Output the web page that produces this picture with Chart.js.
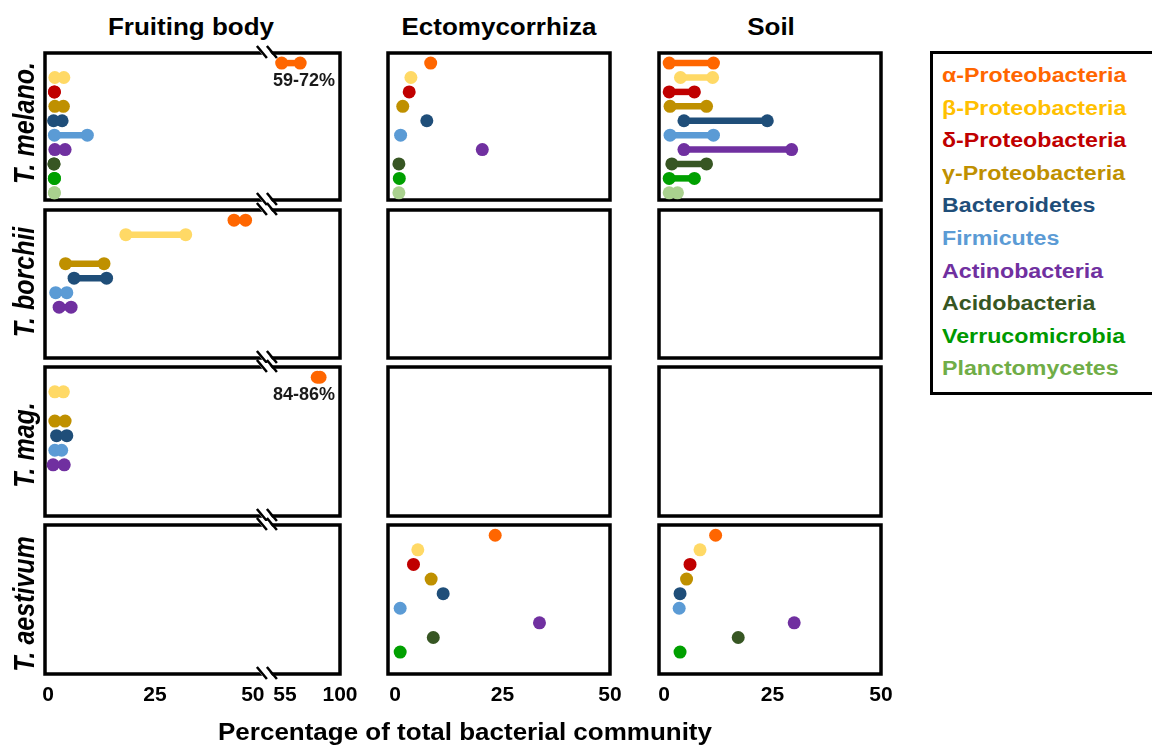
<!DOCTYPE html>
<html>
<head>
<meta charset="utf-8">
<title>Bacterial community of truffles</title>
<script src="https://cdn.jsdelivr.net/npm/chart.js@4.4.1/dist/chart.umd.min.js"></script>
<style>
  body { margin: 0; background: #fff; font-family: "Liberation Sans", Arial, sans-serif; }
  #fig { position: relative; width: 1152px; height: 746px; overflow: hidden; }
  .panel { position: absolute; }
  .txt { position: absolute; white-space: nowrap; font-weight: bold; line-height: 1; transform-origin: 0 0; }
  #legend { position: absolute; border: 3px solid #000; box-sizing: border-box; }
</style>
</head>
<body>
<div id="fig"></div>
<script>
// categories
const taxa = ['α-Proteobacteria', 'β-Proteobacteria', 'δ-Proteobacteria', 'γ-Proteobacteria', 'Bacteroidetes',
    'Firmicutes', 'Actinobacteria', 'Acidobacteria', 'Verrucomicrobia', 'Planctomycetes'];
const habitats = ['Fruiting body', 'Ectomycorrhiza', 'Soil'];
const truffles = ['T. melano.', 'T. borchii', 'T. mag.', 'T. aestivum'];

// % of community, [min, max] ranges or single values, same order as taxa
const melanoFruiting = [[59, 72], [1.6, 3.7], [1.5, 1.5], [1.6, 3.6], [1.3, 3.3], [1.5, 9.2], [1.6, 4.0], [1.4, 1.4], [1.5, 1.5], [1.5, 1.5]];
const melanoEcto = [8.3, 3.7, 3.3, 1.8, 7.4, 1.3, 20.3, 0.9, 1.0, 0.9];
const melanoSoil = [[1.2, 11.4], [3.8, 11.2], [1.2, 7.0], [1.4, 9.8], [4.6, 23.8], [1.4, 11.4], [4.6, 29.4], [1.8, 9.8], [1.2, 7.0], [1.2, 3.1]];
const borchiiFruiting = [[43.5, 46.2], [18.2, 32.2], null, [4.1, 13.1], [6.1, 13.7], [1.8, 4.4], [2.6, 5.4], null, null, null];
const borchiiEcto = [];
const borchiiSoil = [];
const magFruiting = [[84, 86], [1.6, 3.6], null, [1.6, 4.0], [2.0, 4.4], [1.6, 3.2], [1.2, 3.8], null, null, null];
const magEcto = [];
const magSoil = [];
const aestivumFruiting = [];
const aestivumEcto = [23.3, 5.3, 4.3, 8.4, 11.2, 1.2, 33.6, 8.9, 1.2, null];
const aestivumSoil = [11.9, 8.3, 6.0, 5.2, 3.7, 3.5, 30.0, 17.1, 3.7, null];

const fruitTicks = [0, 25, 50, 55, 100];
const otherTicks = [0, 25, 50];
const fruitNotes = ['59-72%', null, '84-86%', null];

const panelData = [
    [melanoFruiting, melanoEcto, melanoSoil],
    [borchiiFruiting, borchiiEcto, borchiiSoil],
    [magFruiting, magEcto, magSoil],
    [aestivumFruiting, aestivumEcto, aestivumSoil]
];

const dotColors = ['#FF6600', '#FFD966', '#C00000', '#BF9000', '#1F4E79', '#5B9BD5', '#7030A0', '#375623', '#00A000', '#A9D18E'];
const legendColors = ['#FF6600', '#FFC000', '#C00000', '#BF9000', '#1F4E79', '#5B9BD5', '#7030A0', '#375623', '#009900', '#70AD47'];

// layout
const cols = [{l: 45, w: 295, min: -0.7}, {l: 388, w: 222, min: -1.63}, {l: 659, w: 222, min: -1.15}];
const rows = [{t: 53, h: 147}, {t: 210, h: 148}, {t: 367, h: 149}, {t: 525, h: 149}];
const PAD = 12, PAD_X = 22, AXIS_H = 40;
const FONT = 'Liberation Sans';

// broken x axis for the fruiting body column: 0-50 | 55-100
const BREAK_AT = 50, BREAK_RESUME = 55, SPLIT = 0.735, RESUME = 0.783;
const TICK_NUDGE = [0, 0, -9, 9, 0];

const LinearScale = Chart.LinearScale || Chart.registry.getScale('linear');
class BrokenScale extends LinearScale {
    getPixelForValue(value) {
        if (value === null || value === undefined || isNaN(value)) return NaN;
        var d;
        if (value <= BREAK_AT) {
            d = (value - this.min) / (BREAK_AT - this.min) * SPLIT;
        } else {
            d = RESUME + (Math.max(value, BREAK_RESUME) - BREAK_RESUME) / (this.max - BREAK_RESUME) * (1 - RESUME);
        }
        return this.getPixelForDecimal(d);
    }
    getPixelForTick(index) {
        var p = super.getPixelForTick(index);
        return p === null ? p : p + (TICK_NUDGE[index] || 0);
    }
}
BrokenScale.id = 'broken';
BrokenScale.defaults = LinearScale.defaults;
Chart.register(BrokenScale);

Chart.defaults.font.family = FONT;

const fig = document.getElementById('fig');

function addText(str, x, y, o) {
    var el = document.createElement('div');
    el.className = 'txt';
    el.textContent = str;
    el.style.left = x + 'px';
    el.style.top = y + 'px';
    el.style.fontSize = o.size + 'px';
    el.style.color = o.color || '#000';
    if (o.italic) el.style.fontStyle = 'italic';
    el.style.transform = 'scaleX(' + (o.sx || 1) + ')' + (o.rotate ? ' rotate(-90deg)' : '') +
        ' translate(' + (o.left ? '0' : '-50%') + ', -50%)';
    (o.parent || fig).appendChild(el);
    return el;
}

const framePlugin = {
    id: 'frame',
    beforeDatasetsDraw: function (chart) {
        var a = chart.chartArea, ctx = chart.ctx, x = chart.scales.x;
        ctx.save();
        ctx.strokeStyle = '#000';
        ctx.lineWidth = 3.5;
        ctx.strokeRect(a.left, a.top, a.right - a.left, a.bottom - a.top);
        if (x instanceof BrokenScale) {
            var xb = (x.getPixelForValue(BREAK_AT) + x.getPixelForValue(BREAK_RESUME)) / 2 - 2;
            [a.top, a.bottom].forEach(function (y) {
                ctx.fillStyle = '#fff';
                ctx.beginPath();
                ctx.moveTo(xb - 9, y - 4);
                ctx.lineTo(xb + 1, y - 4);
                ctx.lineTo(xb + 7, y + 4);
                ctx.lineTo(xb - 3, y + 4);
                ctx.closePath();
                ctx.fill();
                ctx.lineWidth = 2.5;
                ctx.beginPath();
                ctx.moveTo(xb - 10, y - 7); ctx.lineTo(xb, y + 5);
                ctx.moveTo(xb, y - 7); ctx.lineTo(xb + 10, y + 5);
                ctx.stroke();
            });
        }
        ctx.restore();
    }
};

function notePlugin(text) {
    return {
        id: 'note',
        afterDatasetsDraw: function (chart) {
            if (!text) return;
            var ctx = chart.ctx, a = chart.chartArea;
            ctx.save();
            ctx.font = 'bold 18px "' + FONT + '"';
            ctx.fillStyle = '#1a1a1a';
            ctx.textAlign = 'right';
            ctx.textBaseline = 'top';
            ctx.fillText(text, a.right - 5, chart.scales.y.getPixelForValue(0) + 9);
            ctx.restore();
        }
    };
}

function makePanel(r, c) {
    var col = cols[c], row = rows[r];
    var bottom = r === truffles.length - 1;
    var box = document.createElement('div');
    box.className = 'panel';
    box.style.left = (col.l - PAD_X) + 'px';
    box.style.top = (row.t - PAD) + 'px';
    var cv = document.createElement('canvas');
    cv.width = col.w + 2 * PAD_X;
    cv.height = row.h + 2 * PAD + (bottom ? AXIS_H : 0);
    box.appendChild(cv);
    fig.appendChild(box);

    var datasets = [];
    panelData[r][c].forEach(function (v, i) {
        if (v === null || v === undefined) return;
        var pts = Array.isArray(v) ? v.map(function (x) { return {x: x, y: i}; }) : [{x: v, y: i}];
        datasets.push({
            label: taxa[i],
            data: pts,
            showLine: true,
            borderColor: dotColors[i],
            backgroundColor: dotColors[i],
            borderWidth: 6.5,
            borderCapStyle: 'butt',
            pointRadius: 6.5,
            pointHoverRadius: 6.5,
            pointBorderWidth: 0
        });
    });

    var ticks = c === 0 ? fruitTicks : otherTicks;

    new Chart(cv, {
        type: 'scatter',
        data: {datasets: datasets},
        options: {
            responsive: false,
            animation: false,
            events: [],
            layout: {padding: {left: PAD_X, right: PAD_X, top: PAD, bottom: PAD}},
            plugins: {legend: {display: false}, tooltip: {enabled: false}},
            scales: {
                x: {
                    type: c === 0 ? 'broken' : 'linear',
                    display: bottom,
                    min: col.min,
                    max: c === 0 ? 100 : 50,
                    bounds: 'data',
                    grid: {display: false, drawTicks: false},
                    border: {display: false},
                    ticks: {
                        color: '#000',
                        font: {size: 21, weight: 'bold'},
                        padding: 9,
                        autoSkip: false,
                        maxRotation: 0,
                        callback: function (v) { return String(v); }
                    },
                    afterBuildTicks: function (s) {
                        s.ticks = ticks.map(function (v) { return {value: v}; });
                    },
                    afterFit: function (s) {
                        s.height = bottom ? AXIS_H : 0;
                        s.paddingLeft = 0;
                        s.paddingRight = 0;
                    }
                },
                y: {type: 'linear', display: false, min: -0.7, max: 9.5, reverse: true}
            }
        },
        plugins: [framePlugin, notePlugin(c === 0 ? fruitNotes[r] : null)]
    });
}

for (var r = 0; r < truffles.length; r++) {
    for (var c = 0; c < habitats.length; c++) makePanel(r, c);
}

// column titles, row labels, axis title
var titleX = [191, 499, 771];
habitats.forEach(function (h, i) { addText(h, titleX[i], 26.5, {size: 23, sx: 1.13}); });

var labelY = [122.5, 281.5, 444.5, 603.5];
truffles.forEach(function (t, i) { addText(t, 24, labelY[i], {size: 25, sx: 1.2, italic: true, rotate: true}); });

addText('Percentage of total bacterial community', 465, 732, {size: 23, sx: 1.13});

// legend
var legend = document.createElement('div');
legend.id = 'legend';
legend.style.left = '930px';
legend.style.top = '51px';
legend.style.width = '240px';
legend.style.height = '344px';
fig.appendChild(legend);
taxa.forEach(function (t, i) {
    addText(t, 942, 75 + i * 32.6, {size: 20, sx: 1.16, color: legendColors[i], left: true});
});
</script>
</body>
</html>
